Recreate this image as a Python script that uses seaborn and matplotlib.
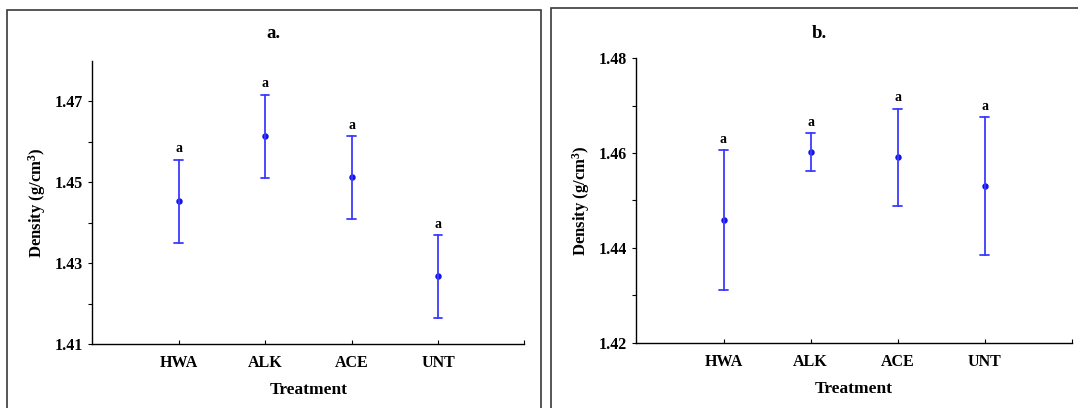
import matplotlib
matplotlib.use("Agg")
import matplotlib.pyplot as plt
from matplotlib.patches import Rectangle
from matplotlib.ticker import FixedLocator
import pandas as pd
import seaborn as sns

# Treatment means and standard errors of wood density (g/cm3)
categories = ["HWA", "ALK", "ACE", "UNT"]
density_a = [1.4453, 1.4614, 1.4512, 1.4267]
se_a = [0.0103, 0.0103, 0.0103, 0.0103]
density_b = [1.4459, 1.4602, 1.4591, 1.4530]
se_b = [0.0147, 0.0040, 0.0103, 0.0146]
letters_a = ["a", "a", "a", "a"]
letters_b = ["a", "a", "a", "a"]
panel_titles = ["a.", "b."]

sns.set_style("ticks")
plt.rcParams["font.family"] = ["Liberation Serif", "DejaVu Serif"]
plt.rcParams["font.weight"] = "bold"
plt.rcParams["mathtext.fontset"] = "custom"
plt.rcParams["mathtext.rm"] = "Liberation Serif:bold"
plt.rcParams["mathtext.default"] = "rm"
for key in ("text.color", "axes.labelcolor", "xtick.color", "ytick.color"):
    plt.rcParams[key] = "black"

W, H = 1078, 408
fig = plt.figure(figsize=(W / 100, H / 100), dpi=100)


def px_axes(x0, x1, y_top, y_bot):
    return fig.add_axes([x0 / W, 1 - y_bot / H, (x1 - x0) / W, (y_bot - y_top) / H])


def interval_frame(means, errs):
    rows = []
    for cat, m, e in zip(categories, means, errs):
        rows.append({"Treatment": cat, "Density": m - e})
        rows.append({"Treatment": cat, "Density": m + e})
    return pd.DataFrame(rows)


def draw_panel(ax, means, errs, letters, ylim, majors, minors):
    df = interval_frame(means, errs)
    sns.pointplot(
        data=df, x="Treatment", y="Density", order=categories,
        estimator="mean", errorbar=lambda v: (v.min(), v.max()),
        color="#1414e6", markers="o", linestyle="none", markersize=2.6,
        capsize=0.1, err_kws={"linewidth": 1.3, "color": "#3c3cff"},
        ax=ax,
    )
    for i, (m, e, lab) in enumerate(zip(means, errs, letters)):
        ax.annotate(lab, xy=(i, m + e), xytext=(0, 3), textcoords="offset points",
                    ha="center", va="bottom", fontsize=10, fontweight="bold")
    ax.set_xlim(-1, 4)
    ax.set_ylim(*ylim)
    ax.yaxis.set_major_locator(FixedLocator(majors))
    ax.yaxis.set_minor_locator(FixedLocator(minors))
    ax.set_yticklabels([f"{v:.2f}" for v in majors])
    ax.xaxis.set_minor_locator(FixedLocator([4]))
    ax.tick_params(axis="both", which="both", direction="out", length=3, width=0.8,
                   labelsize=11.5, color="black")
    ax.tick_params(axis="x", which="both", direction="in", length=3, pad=8)
    for lbl in ax.get_xticklabels() + ax.get_yticklabels():
        lbl.set_fontweight("bold")
    sns.despine(ax=ax)
    for s in ("left", "bottom"):
        ax.spines[s].set_linewidth(1.0)
        ax.spines[s].set_color("black")
    ax.set_xlabel("Treatment", fontsize=12.5, fontweight="bold", labelpad=8)
    ax.set_ylabel("Density (g/cm$^{3}$)", fontsize=12, fontweight="bold", labelpad=5)


ax_a = px_axes(92.3, 524.4, 61, 344)
draw_panel(ax_a, density_a, se_a, letters_a, (1.41, 1.48),
           [1.41, 1.43, 1.45, 1.47], [1.42, 1.44, 1.46])

ax_b = px_axes(636.4, 1071.9, 58.3, 342.7)
draw_panel(ax_b, density_b, se_b, letters_b, (1.42, 1.48),
           [1.42, 1.44, 1.46, 1.48], [1.43, 1.45, 1.47])

# panel frames and titles
for (x0, x1, y0), title in zip([(7, 540.7, 10), (551.3, 1088, 8)], panel_titles):
    fig.add_artist(Rectangle((x0 / W, -0.05), (x1 - x0) / W, 1 - y0 / H + 0.05,
                             transform=fig.transFigure, fill=False,
                             edgecolor="#3a3a3a", linewidth=1.2, clip_on=False))
    fig.text((x0 + x1) / 2 / W, 1 - 33 / H, title, ha="center", va="center",
             fontsize=13.5, fontweight="bold")

fig.savefig("out.png", dpi=100)
